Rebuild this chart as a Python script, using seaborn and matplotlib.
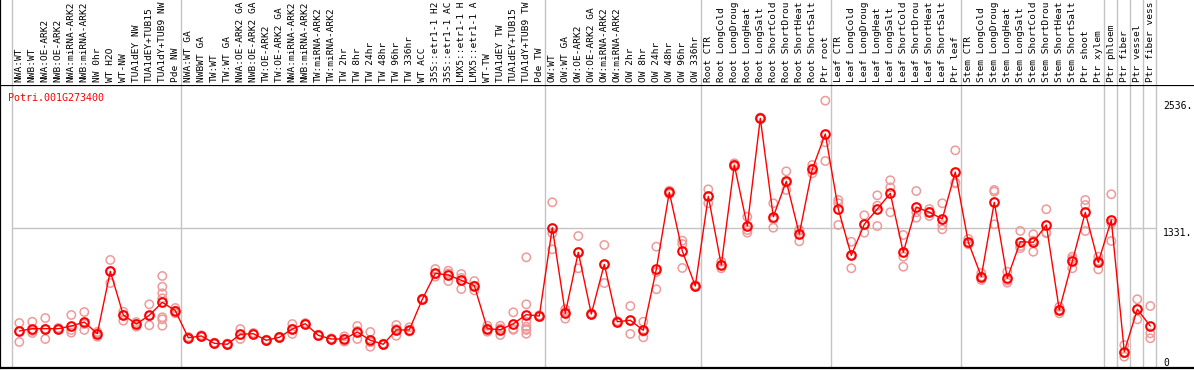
import numpy as np
import pandas as pd
import matplotlib
matplotlib.use("Agg")
import matplotlib.pyplot as plt
import matplotlib.transforms as mtransforms
import seaborn as sns

gene_id = "Potri.001G273400"

# category labels as they are visible in the chart header (long ones are cut there)
categories = [
    "NWA:WT", "NWB:WT", "NWA:OE-ARK2", "NWB:OE-ARK2", "NWA:miRNA-ARK2", "NWB:miRNA-ARK2",
    "NW 0hr", "WT H2O", "WT-NW", "TUA1dEY NW", "TUA1dEY+TUB15", "TUA1dY+TUB9 NW", "Pde NW",
    "NWA:WT GA", "NWBWT GA", "TW:WT", "TW:WT GA", "NWA:OE-ARK2 GA", "NWB:OE-ARK2 GA",
    "TW:OE-ARK2", "TW:OE-ARK2 GA", "NWA:miRNA-ARK2", "NWB:miRNA-ARK2", "TW:miRNA-ARK2",
    "TW:miRNA-ARK2", "TW 2hr", "TW 8hr", "TW 24hr", "TW 48hr", "TW 96hr", "TW 336hr", "WT ACC",
    "35S::etr1-1 H2", "35S::etr1-1 AC", "LMX5::etr1-1 H", "LMX5::etr1-1 A", "WT-TW",
    "TUA1dEY TW", "TUA1dEY+TUB15", "TUA1dY+TUB9 TW", "Pde TW",
    "OW:WT", "OW:WT GA", "OW:OE-ARK2", "OW:OE-ARK2 GA", "OW:miRNA-ARK2", "OW:miRNA-ARK2",
    "OW 2hr", "OW 8hr", "OW 24hr", "OW 48hr", "OW 96hr", "OW 336hr",
    "Root CTR", "Root LongCold", "Root LongDroug", "Root LongHeat", "Root LongSalt",
    "Root ShortCold", "Root ShortDrou", "Root ShortHeat", "Root ShortSalt", "Ptr root",
    "Leaf CTR", "Leaf LongCold", "Leaf LongDroug", "Leaf LongHeat", "Leaf LongSalt",
    "Leaf ShortCold", "Leaf ShortDrou", "Leaf ShortHeat", "Leaf ShortSalt", "Ptr leaf",
    "Stem CTR", "Stem LongCold", "Stem LongDroug", "Stem LongHeat", "Stem LongSalt",
    "Stem ShortCold", "Stem ShortDrou", "Stem ShortHeat", "Stem ShortSalt", "Ptr shoot",
    "Ptr xylem", "Ptr phloem", "Ptr fiber", "Ptr vessel", "Ptr fiber vess",
]

mean_values = [
    351, 373, 373, 373, 398, 436, 325, 917, 503, 417, 500, 623, 544,
    287, 304, 234, 225, 320, 325, 263, 291, 370, 420, 310, 275, 275, 342, 263, 225, 361, 361,
    652, 898, 882, 832, 781, 373, 363, 420, 506, 493,
    1331, 519, 1098, 512, 984, 439, 453, 358, 936, 1667, 1110, 778,
    1629, 977, 1926, 1347, 2369, 1435, 1771, 1271, 1888, 2220,
    1508, 1069, 1363, 1508, 1657, 1098, 1527, 1477, 1414, 1859,
    1193, 868, 1572, 851, 1198, 1193, 1357, 550, 1012, 1477, 1003,
    1404, 155, 557, 398,
]

replicate_values = [
    [427, 247, 351], [439, 332, 351], [474, 275, 370], [365, 380, 373], [503, 335, 361],
    [531, 361, 417], [297, 332, 342], [1025, 806, 920], [534, 449, 503], [392, 436, 417],
    [604, 405, 493], [873, 771, 709, 661, 481, 462, 401], [519, 544, 569],
    [287, 295, 279], [304, 311, 297], [234, 228, 240], [225, 219, 231], [370, 275, 315],
    [325, 332, 318], [263, 269, 257], [291, 285, 297], [417, 323, 370], [420, 414, 426],
    [310, 316, 304], [275, 281, 269], [250, 275, 300], [398, 275, 352], [342, 202, 245],
    [225, 219, 231], [408, 306, 369], [386, 351, 346], [652, 646, 658], [939, 866, 889],
    [923, 825, 898], [892, 749, 855], [825, 781, 737], [401, 344, 373], [401, 313, 375],
    [528, 370, 362], [1050, 604, 439, 392, 361, 370, 325], [493, 500, 486],
    [1572, 1278, 1126], [557, 468, 532], [1252, 946, 1098], [512, 518, 506],
    [1167, 806, 980], [439, 433, 445], [588, 323, 448], [439, 291, 345],
    [1151, 747, 910], [1682, 1667, 1652], [1208, 1176, 949], [778, 771, 785],
    [1695, 1563, 1629], [1008, 946, 977], [1942, 1926, 1910], [1435, 1309, 1284],
    [2369, 2362, 2376], [1563, 1331, 1411], [1866, 1689, 1758], [1300, 1202, 1311],
    [1926, 1847, 1891], [2536, 2141, 1964],
    [1594, 1563, 1357], [1198, 946, 1069], [1449, 1284, 1363], [1638, 1347, 1540],
    [1781, 1714, 1477], [1262, 1056, 961], [1679, 1426, 1477], [1508, 1442, 1481],
    [1563, 1357, 1316], [2065, 1752, 1760],
    [1224, 1174, 1181], [835, 868, 901], [1689, 1673, 1363], [914, 809, 830],
    [1300, 1157, 1137], [1268, 1103, 1208], [1506, 1278, 1287], [519, 550, 581],
    [1056, 946, 1034], [1594, 1546, 1300], [1056, 936, 1017],
    [1648, 1373, 1205], [218, 107, 140], [652, 462, 557], [588, 329, 282],
]

axis_values = [2536, 1331, 0]
axis_labels = ["2536.", "1331.", "0"]
reference_value = 1331

# ---------------------------------------------------------------- layout
W, H = 1194, 370
sns.set_style("white")
plt.rcParams["font.family"] = ["DejaVu Sans Mono"]

fig = plt.figure(figsize=(W / 100, H / 100), dpi=100)
plot_top, plot_bottom = 85, 368
ax = fig.add_axes([0, (H - plot_bottom) / H, 1, (plot_bottom - plot_top) / H])
axh = fig.add_axes([0, (H - plot_top) / H, 1, plot_top / H])

step = 13.0
x0 = 19.3
xmin = -x0 / step
xmax = xmin + W / step
for a in (ax, axh):
    a.set_xlim(xmin, xmax)
    a.set_xticks([])
    a.set_yticks([])
    a.set_facecolor("white")
ax.set_ylim(0, (plot_bottom - plot_top) * 9.487)
axh.set_ylim(0, 1)

# spines
for name, sp in ax.spines.items():
    sp.set_visible(name in ("left", "top", "bottom"))
    sp.set_color("black")
    sp.set_linewidth(1.6)
for name, sp in axh.spines.items():
    sp.set_visible(name == "left")
    sp.set_color("black")
    sp.set_linewidth(1.6)

# group separators
separators = [-0.6, 12.4, 40.4, 52.4, 62.4, 72.4, 83.4, 84.4, 85.4, 86.4, 87.4]
for a in (ax, axh):
    for s in separators:
        a.axvline(s, color="#c4c4c4", lw=1.0, zorder=0)
ax.plot([separators[0], separators[-1]], [reference_value, reference_value],
        color="#c4c4c4", lw=1.0, zorder=0)

# data frames
idx = np.arange(len(categories))
rep_df = pd.DataFrame(
    [(i, v) for i, reps in enumerate(replicate_values) for v in reps],
    columns=["pos", "value"],
)
mean_df = pd.DataFrame({"pos": idx, "value": mean_values})

sns.scatterplot(data=rep_df, x="pos", y="value", ax=ax, marker="o", s=36,
                facecolors="none", edgecolors="#ee9a9a", linewidths=1.1,
                zorder=2, legend=False)
sns.lineplot(data=mean_df, x="pos", y="value", ax=ax, color="red", lw=1.0,
             marker="o", markersize=6.2, markerfacecolor="none",
             markeredgecolor="red", markeredgewidth=1.5, zorder=3, legend=False)
ax.set_xlabel("")
ax.set_ylabel("")
ax.set_xlim(xmin, xmax)

# header labels
for i, lab in enumerate(categories):
    axh.text(i, 3 / plot_top, lab, rotation=90, ha="center", va="bottom",
             fontsize=6.8, color="black", clip_on=False)

# gene id
ax.text(8 / W, 1 - 13 / (plot_bottom - plot_top), gene_id, transform=ax.transAxes,
        ha="left", va="center", fontsize=7.2, color="red")

# right-hand value labels
trans = mtransforms.blended_transform_factory(ax.transAxes, ax.transData)
for v, lab in zip(axis_values, axis_labels):
    ax.text(1163 / W, v, lab, transform=trans, ha="left",
            va="bottom" if v == 0 else "top", fontsize=7.0, color="black")

fig.savefig("out.png", dpi=100)
